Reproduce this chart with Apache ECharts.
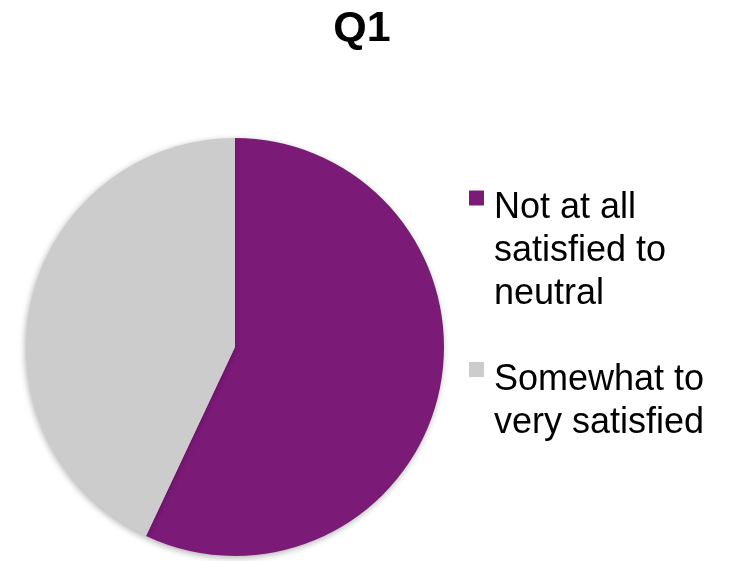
<!DOCTYPE html>
<html>
<head>
<meta charset="utf-8">
<script src="https://cdn.jsdelivr.net/npm/echarts@6/dist/echarts.min.js"></script>
<style>
html,body{margin:0;padding:0;background:#fff;}
#c{width:729px;height:561px;}
</style>
</head>
<body>
<div id="c"></div>
<script>
var titleText = 'Q1';
var categories = ['Not at all satisfied to neutral', 'Somewhat to very satisfied'];
var values = [57, 43];
var colors = ['#7B1A77', '#CCCCCC'];
var legendLines = [['Not at all', 'satisfied to', 'neutral'], ['Somewhat to', 'very satisfied']];

var chart = echarts.init(document.getElementById('c'));
var rich = {
  sp: { width: 15, height: 15, verticalAlign: 'top' },
  t: { fontFamily: 'Liberation Sans', fontSize: 36, lineHeight: 43, color: '#000', padding: [0, 0, 0, 10], verticalAlign: 'top' }
};
colors.forEach(function (c, i) {
  rich['b' + i] = { width: 15, height: 15, backgroundColor: c, verticalAlign: 'top', padding: 0 };
});
chart.setOption({
  animation: false,
  backgroundColor: '#fff',
  title: {
    text: titleText,
    left: 357,
    top: 3,
    textAlign: 'center',
    textStyle: { fontFamily: 'Liberation Sans', fontSize: 43, fontWeight: 'bold', color: '#000' }
  },
  legend: {
    orient: 'vertical',
    left: 464,
    top: 180,
    padding: 0,
    icon: 'none',
    itemWidth: 0,
    itemHeight: 15,
    itemGap: 32,
    selectedMode: false,
    data: categories,
    formatter: function (name) {
      var idx = categories.indexOf(name);
      return legendLines[idx].map(function (l, i) {
        return (i === 0 ? '{b' + idx + '|}' : '{sp|}') + '{t|' + l + '}';
      }).join('\n');
    },
    textStyle: { fontFamily: 'Liberation Sans', fontSize: 36, lineHeight: 43, color: '#000', rich: rich }
  },
  series: [{
    type: 'pie',
    center: [235, 347],
    radius: 209,
    startAngle: 90,
    clockwise: true,
    label: { show: false },
    labelLine: { show: false },
    emphasis: { disabled: true },
    itemStyle: {
      borderWidth: 0,
      shadowBlur: 6,
      shadowColor: 'rgba(0,0,0,0.3)',
      shadowOffsetX: -1,
      shadowOffsetY: 2
    },
    data: categories.map(function (n, i) {
      return { name: n, value: values[i], itemStyle: { color: colors[i] } };
    })
  }]
});
</script>
</body>
</html>
